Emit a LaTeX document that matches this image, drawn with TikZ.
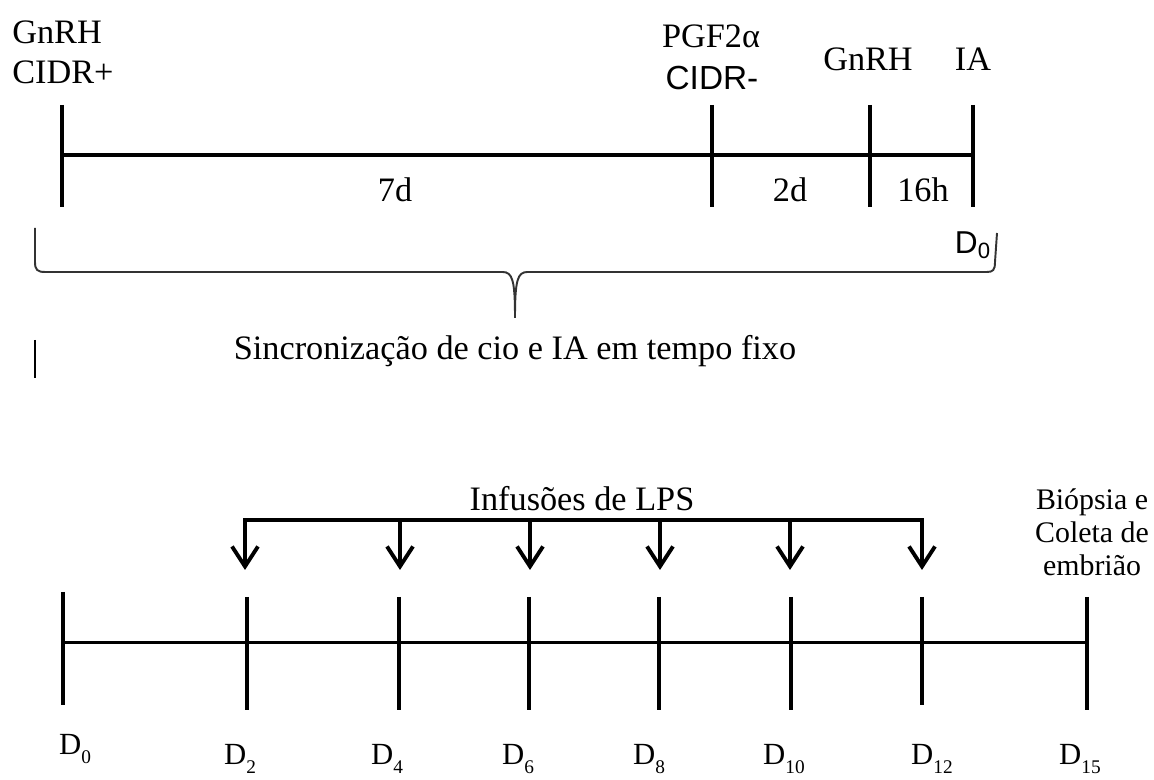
\documentclass[tikz,border=0pt]{standalone}
\usepackage{fontspec}
\setmainfont{Liberation Serif}
\newfontfamily\arialfont{Liberation Sans}
\usetikzlibrary{arrows.meta}

\newcommand{\dia}[1]{D\raisebox{-5pt}{\fontsize{11}{11}\selectfont #1}}

\begin{document}
\begin{tikzpicture}
    [
        label/.style={inner sep=0pt, font=\fontsize{19.5}{23}\selectfont},
        smalllabel/.style={inner sep=0pt, align=center, font=\fontsize{17}{18.7}\selectfont},
        sanslabel/.style={inner sep=0pt, font=\arialfont\fontsize{19}{22}\selectfont},
        daylabel/.style={inner sep=0pt, anchor=base, font=\fontsize{17.5}{20}\selectfont},
        tick/.style={line width=2.2pt},
        daytick/.style={line width=2pt},
        mainline/.style={line width=2.3pt},
        thinline/.style={line width=1.7pt},
        infusion/.style={line width=2.2pt, -{Straight Barb[length=0.4cm, width=0.52cm]}},
        brace/.style={line width=1.1pt, draw=black!80},
    ]
    \useasboundingbox (0,0) rectangle (23.08,15.6);

    % sincronizacao
    \coordinate (s1top) at (1.24,13.5);
    \coordinate (s1bot) at (1.24,11.46);
    \coordinate (s2top) at (14.24,13.5);
    \coordinate (s2bot) at (14.24,11.46);
    \coordinate (s3top) at (17.4,13.5);
    \coordinate (s3bot) at (17.4,11.46);
    \coordinate (s4top) at (19.46,13.5);
    \coordinate (s4bot) at (19.46,11.46);
    \coordinate (s1) at (1.24,12.5);
    \coordinate (s4) at (19.46,12.5);
    \draw[mainline] (s1) -- (s4);
    \draw[tick] (s1top) -- (s1bot);
    \draw[tick] (s2top) -- (s2bot);
    \draw[tick] (s3top) -- (s3bot);
    \draw[tick] (s4top) -- (s4bot);

    \node (gnrh1) at (0.24,14.96) [label, anchor=west] {GnRH};
    \node (cidrin) at (0.24,14.16) [label, anchor=west] {CIDR+};
    \node (pgf) at (14.22,14.88) [label] {PGF2α};
    \node (cidrout) at (14.24,14.04) [sanslabel] {CIDR-};
    \node (gnrh2) at (17.36,14.42) [label] {GnRH};
    \node (ia) at (19.46,14.42) [label] {IA};
    \node (d7) at (7.9,11.8) [label] {7d};
    \node (d2) at (15.8,11.8) [label] {2d};
    \node (h16) at (18.46,11.8) [label] {16h};

    % chave
    \draw[brace] (0.7,11.04) -- (0.7,10.36)
        .. controls (0.7,10.2) and (0.75,10.16) .. (0.9,10.16)
        -- (10.05,10.16)
        .. controls (10.25,10.16) and (10.3,10.0) .. (10.3,9.24)
        .. controls (10.3,10.0) and (10.35,10.16) .. (10.55,10.16)
        -- (19.74,10.16)
        .. controls (19.86,10.16) and (19.9,10.2) .. (19.9,10.36)
        -- (19.94,10.94);
    \node (dzero) at (19.46,10.7) [sanslabel, font=\arialfont\fontsize{18}{20}\selectfont] {D\textsubscript{0}};
    \node (sinc) at (10.3,8.58) [label] {Sincronização de cio e IA em tempo fixo};
    \draw[thinline] (0.7,8.8) -- (0.7,8.04);

    % infusoes
    \node (lps) at (11.64,5.62) [label] {Infusões de LPS};
    \coordinate (b1) at (4.9,5.2);
    \coordinate (b2) at (8.0,5.2);
    \coordinate (b3) at (10.6,5.2);
    \coordinate (b4) at (13.2,5.2);
    \coordinate (b5) at (15.8,5.2);
    \coordinate (b6) at (18.44,5.2);
    \coordinate (a1) at (4.9,4.2);
    \coordinate (a2) at (8.0,4.2);
    \coordinate (a3) at (10.6,4.2);
    \coordinate (a4) at (13.2,4.2);
    \coordinate (a5) at (15.8,4.2);
    \coordinate (a6) at (18.44,4.2);
    \draw[tick, line cap=rect] (b1) -- (b6);
    \draw[infusion] (b1) -- (a1);
    \draw[infusion] (b2) -- (a2);
    \draw[infusion] (b3) -- (a3);
    \draw[infusion] (b4) -- (a4);
    \draw[infusion] (b5) -- (a5);
    \draw[infusion] (b6) -- (a6);
    \node (biopsia) at (21.84,4.96) [smalllabel] {Biópsia e\\Coleta de\\embrião};

    % dias
    \coordinate (t0) at (1.26,2.74);
    \coordinate (t15) at (21.74,2.74);
    \draw[thinline] (t0) -- (t15);
    \draw[daytick] (1.26,3.76) -- (1.26,1.5);
    \draw[daytick] (4.94,3.66) -- (4.94,1.4);
    \draw[daytick] (7.98,3.66) -- (7.98,1.4);
    \draw[daytick] (10.58,3.66) -- (10.58,1.4);
    \draw[daytick] (13.18,3.66) -- (13.18,1.4);
    \draw[daytick] (15.82,3.66) -- (15.82,1.4);
    \draw[daytick] (18.44,3.66) -- (18.44,1.5);
    \draw[daytick] (21.74,3.66) -- (21.74,1.4);

    \node (day0) at (1.5,0.5) [daylabel] {\dia{0}};
    \node (day2) at (4.8,0.3) [daylabel] {\dia{2}};
    \node (day4) at (7.74,0.3) [daylabel] {\dia{4}};
    \node (day6) at (10.36,0.3) [daylabel] {\dia{6}};
    \node (day8) at (12.98,0.3) [daylabel] {\dia{8}};
    \node (day10) at (15.68,0.3) [daylabel] {\dia{10}};
    \node (day12) at (18.64,0.3) [daylabel] {\dia{12}};
    \node (day15) at (21.6,0.3) [daylabel] {\dia{15}};
\end{tikzpicture}
\end{document}
